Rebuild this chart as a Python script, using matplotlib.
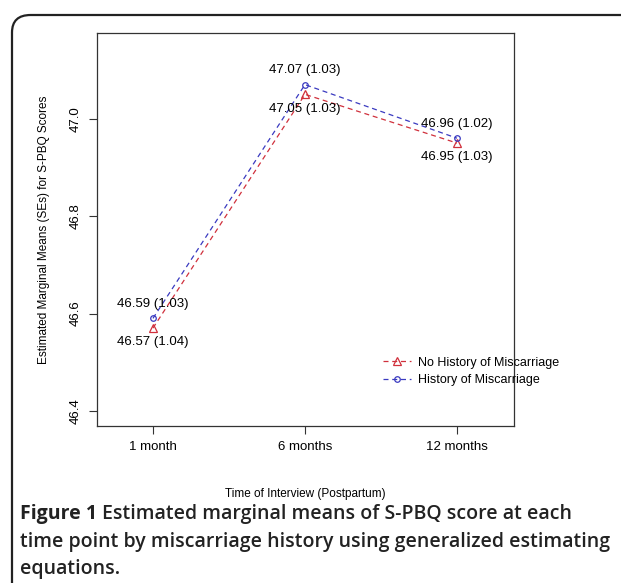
import matplotlib
matplotlib.use("Agg")
import matplotlib.pyplot as plt
from matplotlib.patches import FancyBboxPatch

# data
times = ["1 month", "6 months", "12 months"]
no_hist = [46.57, 47.05, 46.95]
no_hist_se = [1.04, 1.03, 1.03]
hist = [46.59, 47.07, 46.96]
hist_se = [1.03, 1.03, 1.02]
yticks = [46.4, 46.6, 46.8, 47.0]

W, H = 621, 583
fig = plt.figure(figsize=(W / 100, H / 100), dpi=100)
plt.rcParams['font.family'] = ['Liberation Sans', 'DejaVu Sans']

def fx(px):
    return px / W

def fy(py):
    return 1 - py / H

# rounded frame around figure + caption
frame = FancyBboxPatch((fx(12), fy(640)), fx(700), fy(15) - fy(640),
                       boxstyle="round,pad=0,rounding_size=0.03",
                       transform=fig.transFigure, fill=False,
                       edgecolor="#222222", linewidth=1.6, clip_on=False)
fig.patches.append(frame)

ax = fig.add_axes([fx(97), fy(426), fx(514) - fx(97), fy(33) - fy(426)])
x = list(range(1, len(times) + 1))

red = "#d0303c"
blue = "#3a3ac0"
ax.plot(x, no_hist, linestyle=(0, (4, 3)), color=red, linewidth=0.9,
        marker="^", markersize=6, markerfacecolor="none", markeredgewidth=0.9,
        label="No History of Miscarriage")
ax.plot(x, hist, linestyle=(0, (4, 3)), color=blue, linewidth=0.9,
        marker="o", markersize=4, markerfacecolor="none", markeredgewidth=0.9,
        label="History of Miscarriage")

for xi, m, se in zip(x, hist, hist_se):
    ax.annotate(f"{m:.2f} ({se:.2f})", (xi, m), xytext=(0, 6),
                textcoords="offset points", ha="center", va="bottom", fontsize=9.5)
for xi, m, se in zip(x, no_hist, no_hist_se):
    ax.annotate(f"{m:.2f} ({se:.2f})", (xi, m), xytext=(0, -6),
                textcoords="offset points", ha="center", va="top", fontsize=9.5)

ax.set_xlim(0.632, 3.375)
ax.set_ylim(46.369, 47.176)
ax.set_xticks(x)
ax.set_xticklabels(times, fontsize=9.5)
ax.set_yticks(yticks)
ax.set_yticklabels([f"{v:.1f}" for v in yticks], fontsize=9.5, rotation=90, va="center")
ax.tick_params(length=6, width=0.8, color="#333333", pad=5)
for s in ax.spines.values():
    s.set_linewidth(0.9)
    s.set_color("#333333")

ax.set_xlabel("Time of Interview (Postpartum)", fontsize=8.5, labelpad=25)
ax.set_ylabel("Estimated Marginal Means (SEs) for S-PBQ Scores", fontsize=8.5, labelpad=14)

ax.legend(loc="upper left", bbox_to_anchor=(0.66, 0.205), frameon=False,
          fontsize=9, handlelength=2.2, handletextpad=0.6, labelspacing=0.45)

# caption
cap_font = dict(family=["Open Sans", "DejaVu Sans"], fontsize=14.0, color="#222222")
t1 = fig.text(fx(20), fy(514), "Figure 1", fontweight="bold", va="center", **cap_font)
fig.canvas.draw()
bb = t1.get_window_extent()
fig.text(bb.x1 / W + fx(5), fy(514), "Estimated marginal means of S-PBQ score at each",
         va="center", fontweight="semibold", **cap_font)
fig.text(fx(20), fy(542), "time point by miscarriage history using generalized estimating",
         va="center", fontweight="semibold", **cap_font)
fig.text(fx(20), fy(569), "equations.", va="center", fontweight="semibold", **cap_font)

fig.savefig("out.png", dpi=100)
